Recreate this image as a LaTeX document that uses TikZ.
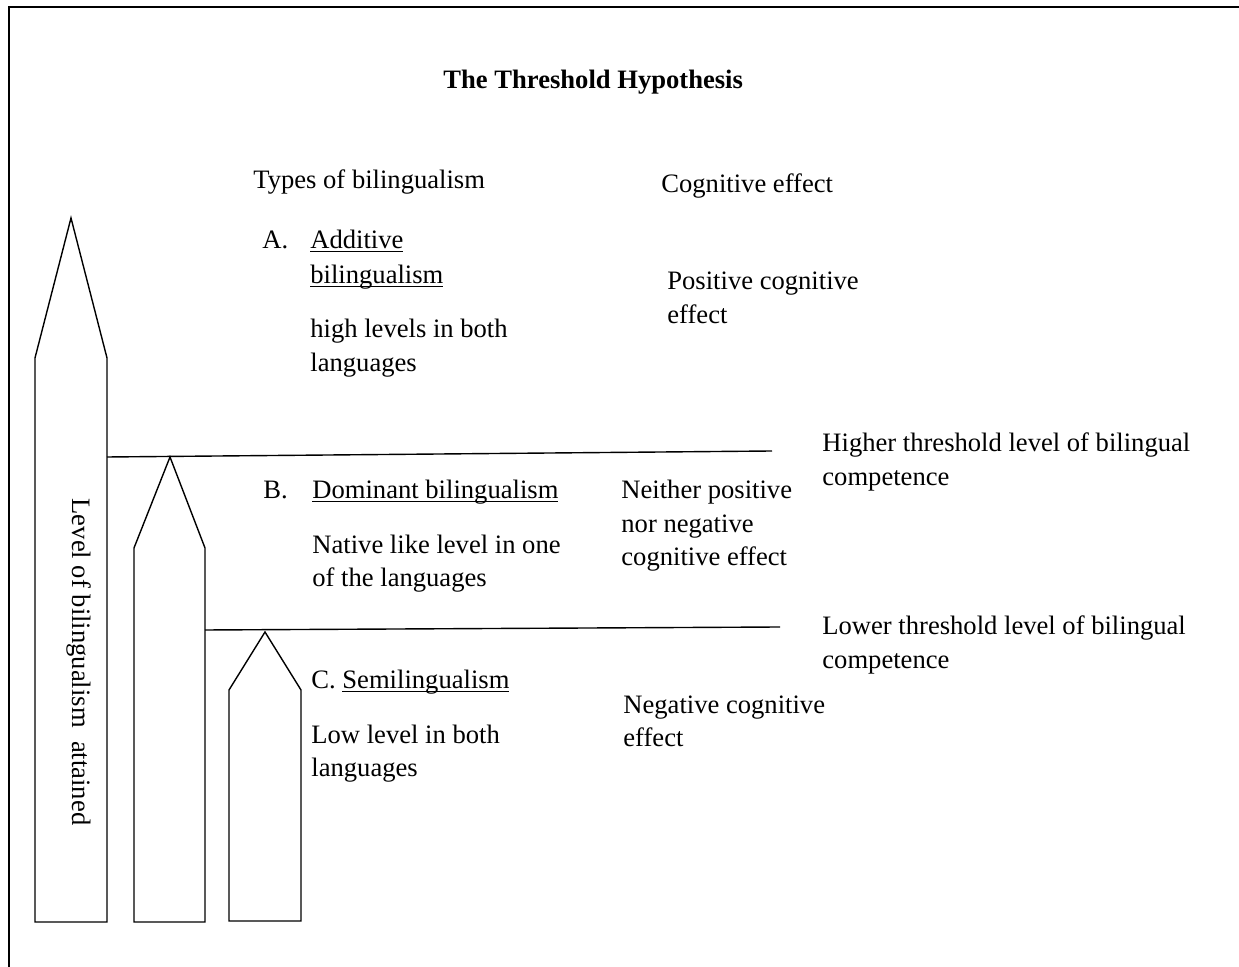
\documentclass[tikz,border=0pt]{standalone}
\usepackage{fontspec}
\setmainfont{Liberation Serif}
\newcommand\myul[1]{\setbox0\hbox{#1}\rlap{\rule[-1.5pt]{\wd0}{0.55pt}}\box0}
\tikzset{
  txt/.style={anchor=base west,inner sep=0pt,yshift=-1pt,font=\fontsize{13.3}{16}\selectfont},
  pencil/.style={draw,line width=0.7pt,line join=miter},
  thresh/.style={draw,line width=0.7pt},
  frame/.style={draw,line width=0.9pt}
}
\begin{document}
\begin{tikzpicture}[x=0.5pt,y=-0.5pt]
\useasboundingbox (0,0) rectangle (1239,967);
% frame (top and left edges visible)
\draw[frame] (1239,7) -- (9,7) -- (9,967);
% pencils
\draw[pencil] (35,922) -- (35,358) -- (71,218) -- (107,358) -- (107,922) -- cycle;
\draw[pencil] (134,922) -- (134,548) -- (170,457) -- (205,548) -- (205,922) -- cycle;
\draw[pencil] (229,921) -- (229,690) -- (265,632) -- (301,690) -- (301,921) -- cycle;
% threshold lines
\coordinate (h1) at (107,457);
\coordinate (h2) at (772,451);
\coordinate (l1) at (205,630);
\coordinate (l2) at (780,627);
\draw[thresh] (h1) -- (h2);
\draw[thresh] (l1) -- (l2);
% vertical label
\node[rotate=-90,inner sep=0pt,font=\fontsize{13.3}{16}\selectfont] (lvl) at (79,662) {Level of bilingualism\ \ attained};
% title
\node[txt,font=\fontsize{13.3}{16}\selectfont\bfseries] (title) at (443,87) {The Threshold Hypothesis};
% headers
\node[txt] (types) at (253,187) {Types of bilingualism};
\node[txt] (cog) at (661,191) {Cognitive effect};
% A
\node[txt] (a) at (262,247) {A.};
\node[txt] (a1) at (310,247) {\myul{Additive}};
\node[txt] (a2) at (310,282) {\myul{bilingualism}};
\node[txt] (a3) at (310,336) {high levels in both};
\node[txt] (a4) at (310,370) {languages};
\node[txt] (pa1) at (667,288) {Positive cognitive};
\node[txt] (pa2) at (667,322) {effect};
% higher threshold
\node[txt] (ht1) at (822,450) {Higher threshold level of bilingual};
\node[txt] (ht2) at (822,484) {competence};
% B
\node[txt] (b) at (263,497) {B.};
\node[txt] (b1) at (312,497) {\myul{Dominant bilingualism}};
\node[txt] (b2) at (312,552) {Native like level in one};
\node[txt] (b3) at (312,585) {of the languages};
\node[txt] (nb1) at (621,497) {Neither positive};
\node[txt] (nb2) at (621,531) {nor negative};
\node[txt] (nb3) at (621,564) {cognitive effect};
% lower threshold
\node[txt] (lt1) at (822,633) {Lower threshold level of bilingual};
\node[txt] (lt2) at (822,667) {competence};
% C
\node[txt] (c1) at (311,687) {C. \myul{Semilingualism}};
\node[txt] (c2) at (311,742) {Low level in both};
\node[txt] (c3) at (311,775) {languages};
\node[txt] (nc1) at (623,712) {Negative cognitive};
\node[txt] (nc2) at (623,745) {effect};
\end{tikzpicture}
\end{document}
